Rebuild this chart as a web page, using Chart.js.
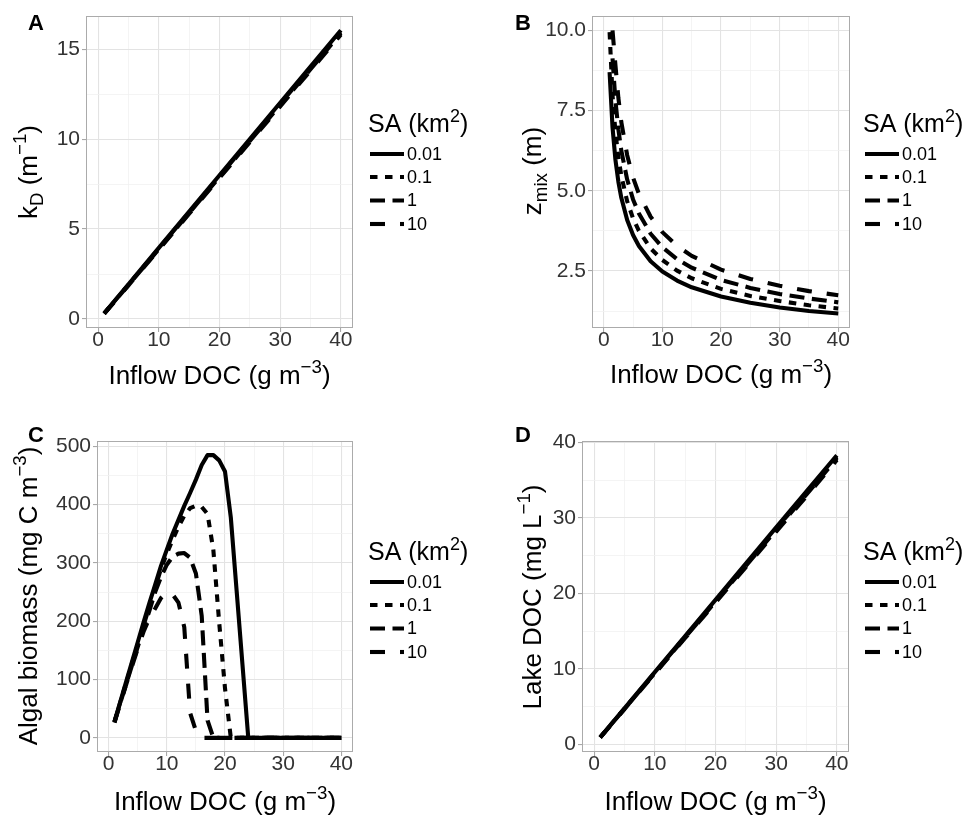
<!DOCTYPE html>
<html>
<head>
<meta charset="utf-8">
<script src="https://cdn.jsdelivr.net/npm/chart.js@4.4.1/dist/chart.umd.min.js"></script>
<style>
  html, body { margin: 0; padding: 0; background: #fff; }
  #wrap { position: relative; width: 964px; height: 817px; }
  canvas { position: absolute; }
</style>
</head>
<body>
<div id="wrap">
  <canvas id="panelA" width="480" height="400" style="left:0;top:0"></canvas>
  <canvas id="panelB" width="484" height="400" style="left:480px;top:0"></canvas>
  <canvas id="panelC" width="480" height="417" style="left:0;top:400px"></canvas>
  <canvas id="panelD" width="484" height="417" style="left:480px;top:400px"></canvas>
</div>
<script>
// surface area levels (legend)
const saLevels = ['0.01', '0.1', '1', '10'];

// shared x axis (inflow DOC)
const xTicks = [0, 10, 20, 30, 40];
const xMinor = [5, 15, 25, 35];

// A: light attenuation kD
const docLinear = [1, 5, 10, 15, 20, 25, 30, 35, 40];
const kD_001 = [0.32, 1.93, 3.95, 5.97, 7.99, 10.0, 12.02, 14.03, 16.05];
const kD_01 = [0.31, 1.91, 3.92, 5.93, 7.94, 9.95, 11.96, 13.96, 15.97];
const kD_1 = [0.30, 1.89, 3.89, 5.89, 7.89, 9.89, 11.89, 13.88, 15.88];
const kD_10 = [0.29, 1.87, 3.86, 5.85, 7.84, 9.83, 11.82, 13.81, 15.80];
const kDTicks = [0, 5, 10, 15];
const kDMinor = [2.5, 7.5, 12.5];

// B: mixing depth
const docB = [1, 1.5, 2, 2.5, 3, 4, 5, 6, 8, 10, 12.5, 15, 20, 25, 30, 35, 40];
const zmix_001 = [8.70, 6.98, 5.96, 5.28, 4.78, 4.09, 3.62, 3.28, 2.80, 2.48, 2.20, 1.99, 1.70, 1.51, 1.36, 1.25, 1.17];
const zmix_01 = [9.95, 7.98, 6.82, 6.04, 5.47, 4.67, 4.14, 3.75, 3.20, 2.84, 2.51, 2.27, 1.94, 1.72, 1.56, 1.43, 1.33];
const zmix_1 = [null, 9.13, 7.80, 6.91, 6.25, 5.35, 4.73, 4.29, 3.66, 3.24, 2.87, 2.60, 2.22, 1.97, 1.78, 1.64, 1.52];
const zmix_10 = [null, 10.0, 8.91, 7.89, 7.14, 6.11, 5.41, 4.90, 4.19, 3.71, 3.28, 2.97, 2.54, 2.25, 2.04, 1.87, 1.74];
const zTicks = [2.5, 5, 7.5, 10];
const zMinor = [1.25, 3.75, 6.25, 8.75];

// C: algal biomass
const docC = [1, 2, 3, 4, 5, 6, 7, 8, 9, 10, 11, 12, 13, 14, 15, 16, 17, 18, 19, 20, 21, 22, 23, 24, 32, 40];
const alg_001 = [28, 62, 96, 130, 164, 198, 231, 263, 295, 323, 350, 374, 398, 420, 443, 468, 485, 485, 476, 457, 378, 252, 126, 0, 0, 0];
const alg_01 = [27, 61, 94, 127, 160, 193, 225, 258, 290, 316, 340, 362, 381, 394, 398, 396, 384, 322, 198, 85, 0, 0, 0, 0, 0, 0];
const alg_1 = [27, 60, 92, 124, 156, 188, 218, 250, 276, 297, 311, 316, 317, 309, 282, 209, 30, 0, 0, 0, 0, 0, 0, 0, 0, 0];
const alg_10 = [26, 59, 91, 122, 153, 182, 205, 222, 240, 250, 246, 232, 190, 43, 12, 0, 0, 0, 0, 0, 0, 0, 0, 0, 0, 0];
const algTicks = [0, 100, 200, 300, 400, 500];
const algMinor = [50, 150, 250, 350, 450];

// D: lake DOC
const ldoc_001 = [0.95, 4.78, 9.58, 14.37, 19.15, 23.95, 28.75, 33.55, 38.3];
const ldoc_01 = [0.94, 4.75, 9.52, 14.28, 19.04, 23.8, 28.57, 33.33, 38.1];
const ldoc_1 = [0.93, 4.72, 9.46, 14.19, 18.93, 23.66, 28.4, 33.13, 37.9];
const ldoc_10 = [0.92, 4.69, 9.4, 14.1, 18.8, 23.5, 28.2, 32.9, 37.7];
const ldocTicks = [0, 10, 20, 30, 40];
const ldocMinor = [5, 15, 25, 35];

const FONT = '"Liberation Sans", Arial, Helvetica, sans-serif';
Chart.defaults.font.family = FONT;
const LW = 4.1;
const dashes = [[], [7.5, 7.5], [15, 7.5], [15, 15]];

function drawRich(ctx, parts, x, y, size, align) {
  const small = size * 0.72;
  const widths = parts.map(([t, m]) => {
    ctx.font = (m ? small : size) + 'px ' + FONT;
    return ctx.measureText(t).width;
  });
  const total = widths.reduce((a, b) => a + b, 0);
  let cx = align === 'center' ? x - total / 2 : x;
  ctx.textAlign = 'left';
  ctx.textBaseline = 'alphabetic';
  parts.forEach(([t, m], i) => {
    ctx.font = (m ? small : size) + 'px ' + FONT;
    const dy = m === 'sup' ? -size * 0.42 : m === 'sub' ? size * 0.24 : 0;
    ctx.fillText(t, cx, y + dy);
    cx += widths[i];
  });
}

const deco = {
  id: 'deco',
  afterDraw(chart, args, o) {
    const { ctx, chartArea: a } = chart;
    ctx.save();
    ctx.strokeStyle = '#ababab';
    ctx.lineWidth = 1;
    ctx.strokeRect(a.left + 0.5, a.top + 0.5, a.right - a.left - 1, a.bottom - a.top - 1);
    ctx.fillStyle = '#000';
    // panel letter
    ctx.font = 'bold 22px ' + FONT;
    ctx.textAlign = 'left';
    ctx.textBaseline = 'alphabetic';
    ctx.fillText(o.letter, o.letterX, o.letterY);
    // x title
    drawRich(ctx, [['Inflow DOC (g m', ''], ['\u22123', 'sup'], [')', '']], (a.left + a.right) / 2, o.xTitleY, 26, 'center');
    // y title
    ctx.save();
    ctx.translate(o.yTitleX, o.yTitleCy);
    ctx.rotate(-Math.PI / 2);
    drawRich(ctx, o.yTitle, 0, 0, 26, 'center');
    ctx.restore();
    // legend
    drawRich(ctx, [['SA (km', ''], ['2', 'sup'], [')', '']], o.legX, o.legY, 25, 'left');
    const gaps = [22, 45, 68.5, 92];
    chart.data.datasets.forEach((ds, i) => {
      const y = o.legY + gaps[i];
      ctx.beginPath();
      ctx.setLineDash(ds.borderDash);
      ctx.lineWidth = LW;
      ctx.strokeStyle = '#000';
      ctx.moveTo(o.legX + 2, y);
      ctx.lineTo(o.legX + 36, y);
      ctx.stroke();
      ctx.setLineDash([]);
      ctx.font = '18px ' + FONT;
      ctx.textBaseline = 'middle';
      ctx.textAlign = 'left';
      ctx.fillText(ds.label, o.legX + 39, y + 1);
    });
    ctx.restore();
  }
};

function axis(min, max, majors, minors, fmt, isX, size) {
  const all = majors.concat(minors).sort((p, q) => p - q);
  const isMajor = v => majors.includes(v);
  return {
    type: 'linear', min, max,
    afterBuildTicks: s => { s.ticks = all.map(v => ({ value: v })); },
    afterFit: s => { if (isX) s.height = size; else s.width = size; },
    ticks: {
      autoSkip: false, maxRotation: 0, padding: isX ? -2 : 2, color: '#333',
      font: { size: 21, lineHeight: 1 },
      callback: v => isMajor(v) ? fmt(v) : ''
    },
    grid: {
      color: c => (c.tick && isMajor(c.tick.value)) ? '#e3e3e3' : '#f1f1f1',
      lineWidth: c => (c.tick && isMajor(c.tick.value)) ? 1.1 : 0.8,
      tickColor: c => (c.tick && isMajor(c.tick.value)) ? '#a8a8a8' : 'rgba(0,0,0,0)',
      tickLength: 4, drawTicks: true
    },
    border: { display: false }
  };
}

function makePanel(id, xs, series, y, area, deco_opts) {
  const canvas = document.getElementById(id);
  const W = canvas.width, H = canvas.height;
  new Chart(canvas, {
    type: 'line',
    data: {
      datasets: series.map((ys, i) => ({
        label: saLevels[i],
        data: xs.map((x, j) => ({ x: x, y: ys[j] })),
        borderColor: '#000',
        borderWidth: LW,
        borderDash: dashes[i],
        borderJoinStyle: 'round',
        pointRadius: 0,
        tension: 0,
        fill: false,
        order: 3 - i
      }))
    },
    options: {
      responsive: false,
      animation: false,
      layout: { padding: { left: 0, top: area.t, right: W - area.r, bottom: 0 } },
      scales: {
        x: axis(-2, 42, xTicks, xMinor, v => String(v), true, H - area.b),
        y: axis(y.min, y.max, y.ticks, y.minor, y.fmt, false, area.l)
      },
      plugins: { legend: { display: false }, tooltip: { enabled: false }, deco: deco_opts }
    },
    plugins: [deco]
  });
}

makePanel('panelA', docLinear, [kD_001, kD_01, kD_1, kD_10],
  { min: -0.5, max: 16.84, ticks: kDTicks, minor: kDMinor, fmt: v => String(v) },
  { l: 86, t: 16, r: 353, b: 328 },
  { letter: 'A', letterX: 28, letterY: 30, xTitleY: 384, yTitleX: 37, yTitleCy: 172,
    yTitle: [['k', ''], ['D', 'sub'], [' (m', ''], ['\u22121', 'sup'], [')', '']], legX: 368, legY: 132 });

makePanel('panelB', docB, [zmix_001, zmix_01, zmix_1, zmix_10],
  { min: 0.72, max: 10.45, ticks: zTicks, minor: zMinor, fmt: v => v.toFixed(1) },
  { l: 112, t: 16, r: 370, b: 328 },
  { letter: 'B', letterX: 35, letterY: 30, xTitleY: 383, yTitleX: 61, yTitleCy: 171,
    yTitle: [['z', ''], ['mix', 'sub'], [' (m)', '']], legX: 383, legY: 132 });

makePanel('panelC', docC, [alg_001, alg_01, alg_1, alg_10],
  { min: -24.25, max: 509.25, ticks: algTicks, minor: algMinor, fmt: v => String(v) },
  { l: 97, t: 41, r: 353, b: 352 },
  { letter: 'C', letterX: 28, letterY: 42, xTitleY: 410, yTitleX: 37, yTitleCy: 196,
    yTitle: [['Algal biomass (mg C m', ''], ['\u22123', 'sup'], [')', '']], legX: 368, legY: 160 });

makePanel('panelD', docLinear, [ldoc_001, ldoc_01, ldoc_1, ldoc_10],
  { min: -1.0, max: 40.2, ticks: ldocTicks, minor: ldocMinor, fmt: v => String(v) },
  { l: 102, t: 41, r: 369, b: 352 },
  { letter: 'D', letterX: 35, letterY: 42, xTitleY: 410, yTitleX: 61, yTitleCy: 197,
    yTitle: [['Lake DOC (mg L', ''], ['\u22121', 'sup'], [')', '']], legX: 383, legY: 160 });
</script>
</body>
</html>
